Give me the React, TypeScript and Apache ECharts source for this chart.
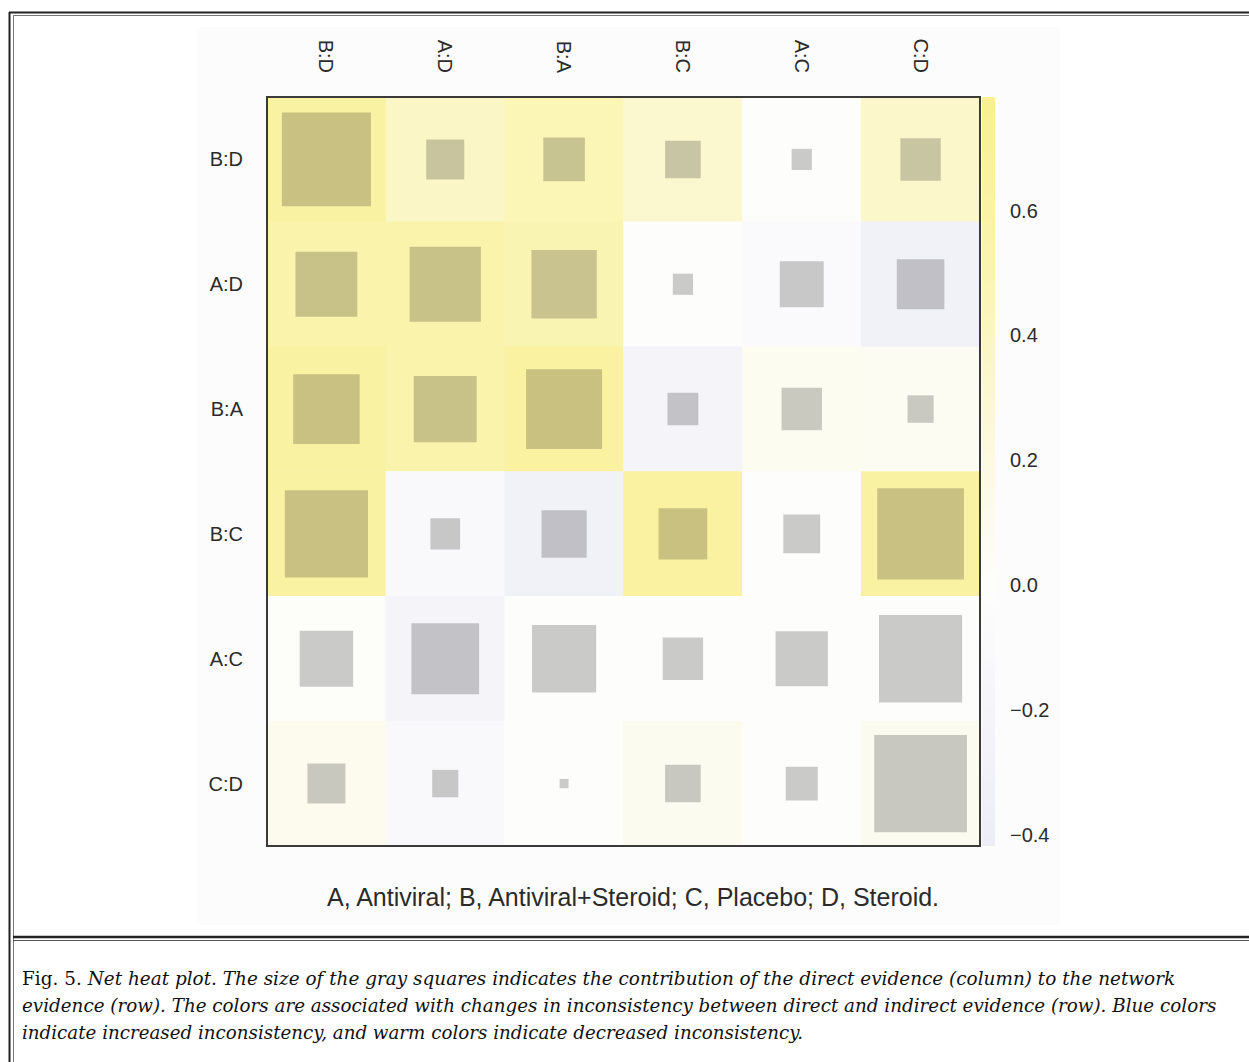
import React, { useEffect, useRef } from 'react';
import * as echarts from 'echarts';

// Categories: rows = network evidence, columns = direct evidence
const CATEGORIES = ['B:D', 'A:D', 'B:A', 'B:C', 'A:C', 'C:D'];

// Background colour values (change in inconsistency), one array per row
const heatBD = [0.62, 0.37, 0.48, 0.32, 0.0, 0.34];
const heatAD = [0.55, 0.55, 0.5, 0.0, -0.08, -0.3];
const heatBA = [0.62, 0.55, 0.64, -0.22, 0.08, 0.07];
const heatBC = [0.62, -0.1, -0.3, 0.64, 0.0, 0.62];
const heatAC = [0.01, -0.22, 0.0, 0.0, 0.0, 0.0];
const heatCD = [0.1, -0.1, 0.0, 0.09, 0.0, 0.09];

// Gray square side (fraction of the cell), one array per row
const sizeBD = [0.75, 0.32, 0.35, 0.3, 0.17, 0.34];
const sizeAD = [0.52, 0.6, 0.55, 0.17, 0.37, 0.4];
const sizeBA = [0.56, 0.53, 0.64, 0.26, 0.34, 0.22];
const sizeBC = [0.7, 0.25, 0.38, 0.41, 0.31, 0.73];
const sizeAC = [0.45, 0.57, 0.54, 0.34, 0.44, 0.7];
const sizeCD = [0.32, 0.22, 0.075, 0.3, 0.27, 0.78];

// Colour scale
const SCALE_MIN = -0.418;
const SCALE_MAX = 0.782;
const SCALE_TICKS = [-0.4, -0.2, 0, 0.2, 0.4, 0.6];
const SCALE_COLORS = ['#ededf6', '#f4f4f9', '#fdfdfd', '#fcfae4', '#fbf6c4', '#faf3a8', '#f9f090'];

const LEGEND_TEXT = 'A, Antiviral; B, Antiviral+Steroid; C, Placebo; D, Steroid.';
const CAPTION_LEAD = 'Fig. 5. ';
const CAPTION_LINES = [
  'Net heat plot. The size of the gray squares indicates the contribution of the direct evidence (column) to the network',
  'evidence (row). The colors are associated with changes in inconsistency between direct and indirect evidence (row). Blue colors',
  'indicate increased inconsistency, and warm colors indicate decreased inconsistency.',
];

const HEAT_ROWS = [heatBD, heatAD, heatBA, heatBC, heatAC, heatCD];
const SIZE_ROWS = [sizeBD, sizeAD, sizeBA, sizeBC, sizeAC, sizeCD];

const G = { left: 267, top: 97, width: 713, height: 749 };
const SANS = "'Liberation Sans', Arial, Helvetica, sans-serif";
const SERIF = "'DejaVu Serif', serif";

export default function App() {
  const ref = useRef<HTMLDivElement>(null);

  useEffect(() => {
    const chart = echarts.init(ref.current!, null, { renderer: 'svg' });

    const heatData: number[][] = [];
    const sizeData: number[][] = [];
    HEAT_ROWS.forEach((row, r) => row.forEach((v, c) => heatData.push([c, r, v])));
    SIZE_ROWS.forEach((row, r) => row.forEach((v, c) => sizeData.push([c, r, v])));

    // measure caption lines to fit reference line widths
    const ctx = document.createElement('canvas').getContext('2d')!;
    const fs = 19;
    const measure = (font: string, t: string) => {
      ctx.font = font;
      return ctx.measureText(t).width;
    };
    const targets = [1154, 1195, 781];
    const captionEls = CAPTION_LINES.map((line, i) => {
      const lead = i === 0 ? CAPTION_LEAD : '';
      const w =
        (lead ? measure(`${fs}px ${SERIF}`, lead) : 0) + measure(`italic ${fs}px ${SERIF}`, line);
      const sx = targets[i] / w;
      return {
        type: 'text',
        x: 22,
        y: 978 + i * 27,
        scaleX: sx,
        z: 10,
        style: {
          text: (lead ? `{n|${lead}}` : '') + `{i|${line}}`,
          fill: '#111',
          fontFamily: SERIF,
          fontSize: fs,
          verticalAlign: 'middle',
          align: 'left',
          rich: {
            n: { fontStyle: 'normal', fontFamily: SERIF, fontSize: fs, fill: '#111' },
            i: { fontStyle: 'italic', fontFamily: SERIF, fontSize: fs, fill: '#111' },
          },
        },
      };
    });

    const option: any = {
      animation: false,
      backgroundColor: '#ffffff',
      grid: [
        { left: G.left, top: G.top, width: G.width, height: G.height },
        { left: 982, top: G.top, width: 13, height: G.height },
      ],
      xAxis: [
        {
          type: 'category',
          data: CATEGORIES,
          position: 'top',
          gridIndex: 0,
          axisLine: { show: false },
          axisTick: { show: false },
          splitLine: { show: false },
          axisLabel: { rotate: 90, margin: 24, fontSize: 20, color: '#2b2b2b', fontFamily: SANS },
        },
        { type: 'value', gridIndex: 1, show: false, min: 0, max: 1 },
      ],
      yAxis: [
        {
          type: 'category',
          data: CATEGORIES,
          inverse: true,
          gridIndex: 0,
          axisLine: { show: false },
          axisTick: { show: false },
          splitLine: { show: false },
          axisLabel: { margin: 24, fontSize: 20, color: '#2b2b2b', fontFamily: SANS },
        },
        {
          type: 'value',
          gridIndex: 1,
          position: 'right',
          min: SCALE_MIN,
          max: SCALE_MAX,
          axisLine: { show: false },
          axisTick: { show: false },
          splitLine: { show: false },
          axisLabel: {
            customValues: SCALE_TICKS,
            margin: 15,
            fontSize: 20,
            color: '#2b2b2b',
            fontFamily: SANS,
            formatter: (v: number) => (v < 0 ? '\u2212' + Math.abs(v).toFixed(1) : v.toFixed(1)),
          },
        },
      ],
      visualMap: {
        type: 'continuous',
        min: SCALE_MIN,
        max: SCALE_MAX,
        seriesIndex: 0,
        dimension: 2,
        calculable: false,
        orient: 'vertical',
        left: 982,
        top: G.top,
        itemWidth: 13,
        itemHeight: G.height,
        padding: 0,
        text: null,
        inRange: { color: SCALE_COLORS },
      },
      graphic: [
        { type: 'rect', z: 0, shape: { x: 198, y: 27, width: 862, height: 898 }, style: { fill: '#fcfcfc' } },
        { type: 'rect', z: 50, shape: { x: G.left, y: G.top, width: G.width, height: G.height }, style: { fill: 'none', stroke: '#3a3a3a', lineWidth: 2 } },
        { type: 'text', z: 10, x: 633, y: 897, style: { text: LEGEND_TEXT, fontSize: 25, fontFamily: SANS, fill: '#2b2b2b', align: 'center', verticalAlign: 'middle' } },
        // frame lines
        { type: 'line', z: 10, shape: { x1: 9, y1: 12.5, x2: 1249, y2: 12.5 }, style: { stroke: '#222', lineWidth: 2 } },
        { type: 'line', z: 10, shape: { x1: 13, y1: 15.5, x2: 1249, y2: 15.5 }, style: { stroke: '#777', lineWidth: 1 } },
        { type: 'line', z: 10, shape: { x1: 9.5, y1: 12, x2: 9.5, y2: 1062 }, style: { stroke: '#222', lineWidth: 2 } },
        { type: 'line', z: 10, shape: { x1: 13.5, y1: 15, x2: 13.5, y2: 1062 }, style: { stroke: '#777', lineWidth: 1 } },
        { type: 'line', z: 10, shape: { x1: 13, y1: 937, x2: 1249, y2: 937 }, style: { stroke: '#222', lineWidth: 2.5 } },
        { type: 'line', z: 10, shape: { x1: 13, y1: 940.5, x2: 1249, y2: 940.5 }, style: { stroke: '#555', lineWidth: 1 } },
        ...captionEls,
      ],
      series: [
        {
          type: 'heatmap',
          xAxisIndex: 0,
          yAxisIndex: 0,
          data: heatData,
          itemStyle: { borderWidth: 0 },
          emphasis: { disabled: true },
          silent: true,
        },
        {
          type: 'custom',
          xAxisIndex: 0,
          yAxisIndex: 0,
          data: sizeData,
          encode: { x: 0, y: 1 },
          silent: true,
          renderItem: (params: any, api: any) => {
            const c = api.coord([api.value(0), api.value(1)]);
            const s = api.size([1, 1]);
            const f = api.value(2);
            const w = s[0] * f;
            const h = s[1] * f;
            return {
              type: 'rect',
              shape: { x: c[0] - w / 2, y: c[1] - h / 2, width: w, height: h },
              style: { fill: 'rgba(0,0,0,0.2)' },
            };
          },
        },
      ],
    };

    chart.setOption(option);
    return () => chart.dispose();
  }, []);

  return (
    <div style={{ position: 'fixed', left: 0, top: 0, width: 1249, height: 1062, overflow: 'hidden', background: '#fff' }}>
      <div ref={ref} style={{ width: 1249, height: 1062 }} />
    </div>
  );
}
